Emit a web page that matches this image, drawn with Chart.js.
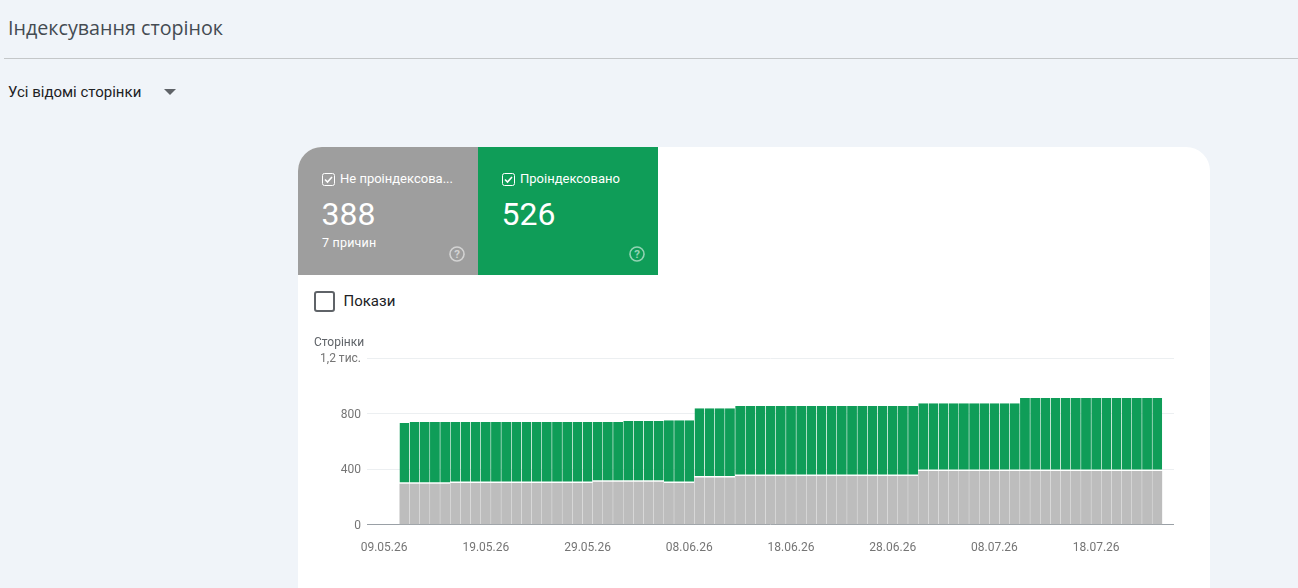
<!DOCTYPE html>
<html lang="uk">
<head>
<meta charset="utf-8">
<title>Індексування сторінок</title>
<script src="https://cdn.jsdelivr.net/npm/chart.js@4/dist/chart.umd.min.js"></script>
<style>
  html, body { margin: 0; height: 100%; overflow: hidden; background: #f0f4f9; font-family: Roboto, sans-serif; }
  .abs { position: absolute; white-space: nowrap; }
  #title { left: 8px; top: 15px; font: 19.7px/26px "Open Sans", sans-serif; color: #444b52; }
  #rule { left: 4px; right: 0; top: 58px; height: 1px; background: #c4c7c9; }
  #filter { left: 8px; top: 83px; font-size: 15px; line-height: 18px; color: #202124; }
  #caret { left: 164px; top: 89px; width: 0; height: 0; border: 6px solid transparent; border-top-color: #5f6368; border-bottom: 0; }
  #card { left: 298px; top: 147px; width: 912px; height: 460px; background: #fff; border-radius: 24px 24px 0 0; overflow: hidden; }
  .tile { position: absolute; top: 0; width: 180px; height: 128px; color: #fff; }
  .tile .name { position: absolute; left: 42px; top: 24px; font-size: 13px; line-height: 16px; }
  .tile .num { position: absolute; left: 24px; top: 48px; font-size: 32px; line-height: 38px; margin-left: -.5px; }
  .tile .sub { position: absolute; left: 24px; top: 88px; font-size: 12.5px; line-height: 16px; letter-spacing: .2px; }
  .tile svg { position: absolute; }
  #imp-box { position: absolute; left: 16px; top: 144px; width: 17px; height: 17px; border: 2px solid #5f6368; border-radius: 3px; }
  #imp-label { position: absolute; left: 45.5px; top: 144px; font-size: 15px; line-height: 20px; color: #202124; }
  #y-title { position: absolute; left: 16px; top: 188px; font-size: 12px; line-height: 14px; color: #5f6368; }
  #chart-wrap { position: absolute; left: 0; top: 183px; width: 912px; height: 250px; }
</style>
</head>
<body>
<div class="abs" id="title">Індексування сторінок</div>
<div class="abs" id="rule"></div>
<div class="abs" id="filter">Усі відомі сторінки</div>
<div class="abs" id="caret"></div>

<div class="abs" id="card">
  <div class="tile" style="left:0;background:#9e9e9e">
    <svg style="left:24px;top:26px" width="13" height="13" viewBox="0 0 13 13"><rect x=".5" y=".5" width="12" height="12" rx="2" fill="none" stroke="#fff"/><path d="M3 6.5l2.5 2.5L10 4" fill="none" stroke="#fff" stroke-width="1.6"/></svg>
    <div class="name">Не проіндексова...</div>
    <div class="num">388</div>
    <div class="sub">7 причин</div>
    <svg style="left:151px;top:99px" width="16" height="16" viewBox="0 0 16 16" opacity=".55"><circle cx="8" cy="8" r="7" fill="none" stroke="#fff" stroke-width="1.6"/><text x="8" y="12" text-anchor="middle" font-size="11.5" font-weight="700" fill="#fff" font-family="Roboto">?</text></svg>
  </div>
  <div class="tile" style="left:180px;background:#0f9d58">
    <svg style="left:24px;top:26px" width="13" height="13" viewBox="0 0 13 13"><rect x=".5" y=".5" width="12" height="12" rx="2" fill="none" stroke="#fff"/><path d="M3 6.5l2.5 2.5L10 4" fill="none" stroke="#fff" stroke-width="1.6"/></svg>
    <div class="name">Проіндексовано</div>
    <div class="num">526</div>
    <svg style="left:151px;top:99px" width="16" height="16" viewBox="0 0 16 16" opacity=".55"><circle cx="8" cy="8" r="7" fill="none" stroke="#fff" stroke-width="1.6"/><text x="8" y="12" text-anchor="middle" font-size="11.5" font-weight="700" fill="#fff" font-family="Roboto">?</text></svg>
  </div>
  <div id="imp-box"></div>
  <div id="imp-label">Покази</div>
  <div id="chart-wrap"><canvas id="pagesChart" width="912" height="250"></canvas></div>
  <div id="y-title">Сторінки</div>
</div>

<script>
// one date per bar slot, the first two days have no data
const categories = [
  '09.05.26','10.05.26','11.05.26','12.05.26','13.05.26','14.05.26','15.05.26','16.05.26','17.05.26','18.05.26',
  '19.05.26','20.05.26','21.05.26','22.05.26','23.05.26','24.05.26','25.05.26','26.05.26','27.05.26','28.05.26',
  '29.05.26','30.05.26','31.05.26','01.06.26','02.06.26','03.06.26','04.06.26','05.06.26','06.06.26','07.06.26',
  '08.06.26','09.06.26','10.06.26','11.06.26','12.06.26','13.06.26','14.06.26','15.06.26','16.06.26','17.06.26',
  '18.06.26','19.06.26','20.06.26','21.06.26','22.06.26','23.06.26','24.06.26','25.06.26','26.06.26','27.06.26',
  '28.06.26','29.06.26','30.06.26','01.07.26','02.07.26','03.07.26','04.07.26','05.07.26','06.07.26','07.07.26',
  '08.07.26','09.07.26','10.07.26','11.07.26','12.07.26','13.07.26','14.07.26','15.07.26','16.07.26','17.07.26',
  '18.07.26','19.07.26','20.07.26','21.07.26','22.07.26','23.07.26','24.07.26'
];

const notIndexed = [
  null,null,295,295,295,295,295,301,301,301,
  301,301,301,301,301,301,301,301,301,301,
  301,309,309,309,309,309,309,309,301,301,
  301,340,340,340,340,352,352,352,352,352,
  352,352,352,352,352,352,352,352,352,352,
  352,352,352,388,388,388,388,388,388,388,
  388,388,388,388,388,388,388,388,388,388,
  388,388,388,388,388,388,388
];

const indexed = [
  null,null,438,445,445,445,445,439,439,439,
  439,439,439,439,439,439,439,439,439,439,
  439,431,431,431,438,438,438,438,453,453,
  453,500,500,500,500,504,504,504,504,504,
  504,504,504,504,504,504,504,504,504,504,
  504,504,504,488,488,488,488,488,488,488,
  488,488,488,525,525,525,525,525,525,525,
  525,525,525,525,525,525,526
];

const xTickLabels = ['09.05.26', '19.05.26', '29.05.26', '08.06.26', '18.06.26', '28.06.26', '08.07.26', '18.07.26'];
const yTickLabels = { 0: '0', 400: '400', 800: '800', 1200: '1,2 тис.' };

const toPoints = values => values.map((v, i) => ({ x: i, y: v }));

new Chart(document.getElementById('pagesChart'), {
  type: 'bar',
  data: {
    datasets: [
      {
        label: 'Не проіндексовано',
        data: toPoints(notIndexed),
        backgroundColor: '#bdbdbd'
      },
      {
        label: 'Проіндексовано',
        data: toPoints(indexed),
        backgroundColor: '#0f9d58',
        borderColor: '#ffffff',
        borderSkipped: false,
        borderWidth: { top: 0, left: 0, right: 0, bottom: 1.5 }
      }
    ]
  },
  options: {
    responsive: false,
    animation: false,
    barPercentage: 0.97,
    categoryPercentage: 1,
    layout: { padding: { top: 28.3, right: 36, left: 0, bottom: 0 } },
    plugins: {
      legend: { display: false },
      tooltip: { enabled: false }
    },
    scales: {
      x: {
        type: 'linear',
        stacked: true,
        bounds: 'data',
        offset: false,
        min: -1.68,
        max: 77.65,
        // dates sit on every tenth slot, the scale's own steps would start at min
        afterBuildTicks: scale => {
          scale.ticks = xTickLabels.map(d => ({ value: categories.indexOf(d) }));
        },
        afterFit: scale => { scale.height = 55.3; },
        grid: { display: false },
        border: { display: false },
        ticks: {
          autoSkip: false,
          maxRotation: 0,
          padding: 8,
          color: '#757575',
          font: { family: 'Roboto', size: 12 },
          callback: value => categories[value]
        }
      },
      y: {
        stacked: true,
        min: 0,
        max: 1200,
        afterFit: scale => { scale.width = 69; },
        border: { display: false },
        grid: {
          drawTicks: false,
          color: ctx => (ctx.tick.value === 0 ? '#9aa0a6' : '#eceff1')
        },
        ticks: {
          stepSize: 400,
          padding: 6,
          labelOffset: 1,
          color: '#757575',
          font: { family: 'Roboto', size: 12 },
          callback: value => yTickLabels[value]
        }
      }
    }
  }
});
</script>
</body>
</html>
